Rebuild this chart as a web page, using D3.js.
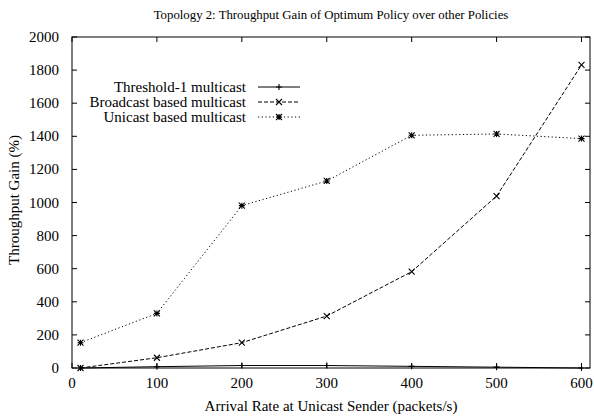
<!DOCTYPE html>
<html>
<head>
<meta charset="utf-8">
<script src="https://cdn.jsdelivr.net/npm/d3@7"></script>
<style>
  body { margin: 0; background: #fff; }
  svg text { font-family: "Liberation Serif", "Times New Roman", Times, serif; }
</style>
</head>
<body>
<script>
// data
const rates = [10, 100, 200, 300, 400, 500, 600];
const threshold = [0, 8, 15, 15, 10, 5, 0];
const broadcast = [0, 62, 153, 314, 582, 1039, 1831];
const unicast = [153, 330, 981, 1130, 1406, 1414, 1386];
const xTicks = [0, 100, 200, 300, 400, 500, 600];
const yTicks = [0, 200, 400, 600, 800, 1000, 1200, 1400, 1600, 1800, 2000];

const width = 594, height = 419;
const plotLeft = 72, plotRight = 590, plotTop = 37, plotBottom = 368;

const svg = d3.select("body").append("svg")
  .attr("width", width).attr("height", height);

const x = d3.scaleLinear().domain([0, 610]).range([plotLeft, plotRight]);
const y = d3.scaleLinear().domain([0, 2000]).range([plotBottom, plotTop]);
const tick = 5;

//ticks on all four sides
xTicks.forEach(v => {
  svg.append("line").attr("x1", x(v)).attr("x2", x(v))
    .attr("y1", plotBottom).attr("y2", plotBottom - tick).attr("stroke", "black");
  svg.append("line").attr("x1", x(v)).attr("x2", x(v))
    .attr("y1", plotTop).attr("y2", plotTop + tick).attr("stroke", "black");
  svg.append("text").text(v)
    .attr("x", x(v)).attr("y", plotBottom + 20)
    .attr("text-anchor", "middle").style("font-size", "15px");
});
yTicks.forEach(v => {
  svg.append("line").attr("x1", plotLeft).attr("x2", plotLeft + tick)
    .attr("y1", y(v)).attr("y2", y(v)).attr("stroke", "black");
  svg.append("line").attr("x1", plotRight).attr("x2", plotRight - tick)
    .attr("y1", y(v)).attr("y2", y(v)).attr("stroke", "black");
  svg.append("text").text(v)
    .attr("x", plotLeft - 13).attr("y", y(v) + 5)
    .attr("text-anchor", "end").style("font-size", "15px");
});

//border
svg.append("rect")
  .attr("x", plotLeft).attr("y", plotTop)
  .attr("width", plotRight - plotLeft).attr("height", plotBottom - plotTop)
  .attr("fill", "none").attr("stroke", "black");

//markers
function marker(g, type, cx, cy) {
  const s = 3;
  const p = d3.path();
  if (type === "plus" || type === "star") {
    p.moveTo(cx - s, cy); p.lineTo(cx + s, cy);
    p.moveTo(cx, cy - s); p.lineTo(cx, cy + s);
  }
  if (type === "cross" || type === "star") {
    p.moveTo(cx - s, cy - s); p.lineTo(cx + s, cy + s);
    p.moveTo(cx - s, cy + s); p.lineTo(cx + s, cy - s);
  }
  g.append("path").attr("d", p.toString())
    .attr("stroke", "black").attr("stroke-width", 1.1).attr("fill", "none");
}

const series = [
  {name: "Threshold-1 multicast", values: threshold, dash: null, mark: "plus"},
  {name: "Broadcast based multicast", values: broadcast, dash: "4,2", mark: "cross"},
  {name: "Unicast based multicast", values: unicast, dash: "1.2,2.5", mark: "star"}
];

const line = d3.line().x((d, i) => x(rates[i])).y(d => y(d));

series.forEach((s, k) => {
  svg.append("path")
    .attr("d", line(s.values))
    .attr("fill", "none").attr("stroke", "black").attr("stroke-width", 1)
    .attr("stroke-dasharray", s.dash);
  s.values.forEach((v, i) => marker(svg, s.mark, x(rates[i]), y(v)));

  //legend entry
  const ly = 87 + k * 15;
  svg.append("text").text(s.name)
    .attr("x", 246).attr("y", ly + 4.5)
    .attr("text-anchor", "end").style("font-size", "15px");
  svg.append("line")
    .attr("x1", 258).attr("x2", 300).attr("y1", ly).attr("y2", ly)
    .attr("stroke", "black").attr("stroke-dasharray", s.dash);
  marker(svg, s.mark, 279, ly);
});

//title and axis labels
svg.append("text").text("Topology 2: Throughput Gain of Optimum Policy over other Policies")
  .attr("x", 331).attr("y", 19).attr("text-anchor", "middle").style("font-size", "12.8px");
svg.append("text").text("Arrival Rate at Unicast Sender (packets/s)")
  .attr("x", 331).attr("y", 411).attr("text-anchor", "middle").style("font-size", "15px");
svg.append("text").text("Throughput Gain (%)")
  .attr("transform", "translate(19,200) rotate(-90)")
  .attr("text-anchor", "middle").style("font-size", "15px");
</script>
</body>
</html>
